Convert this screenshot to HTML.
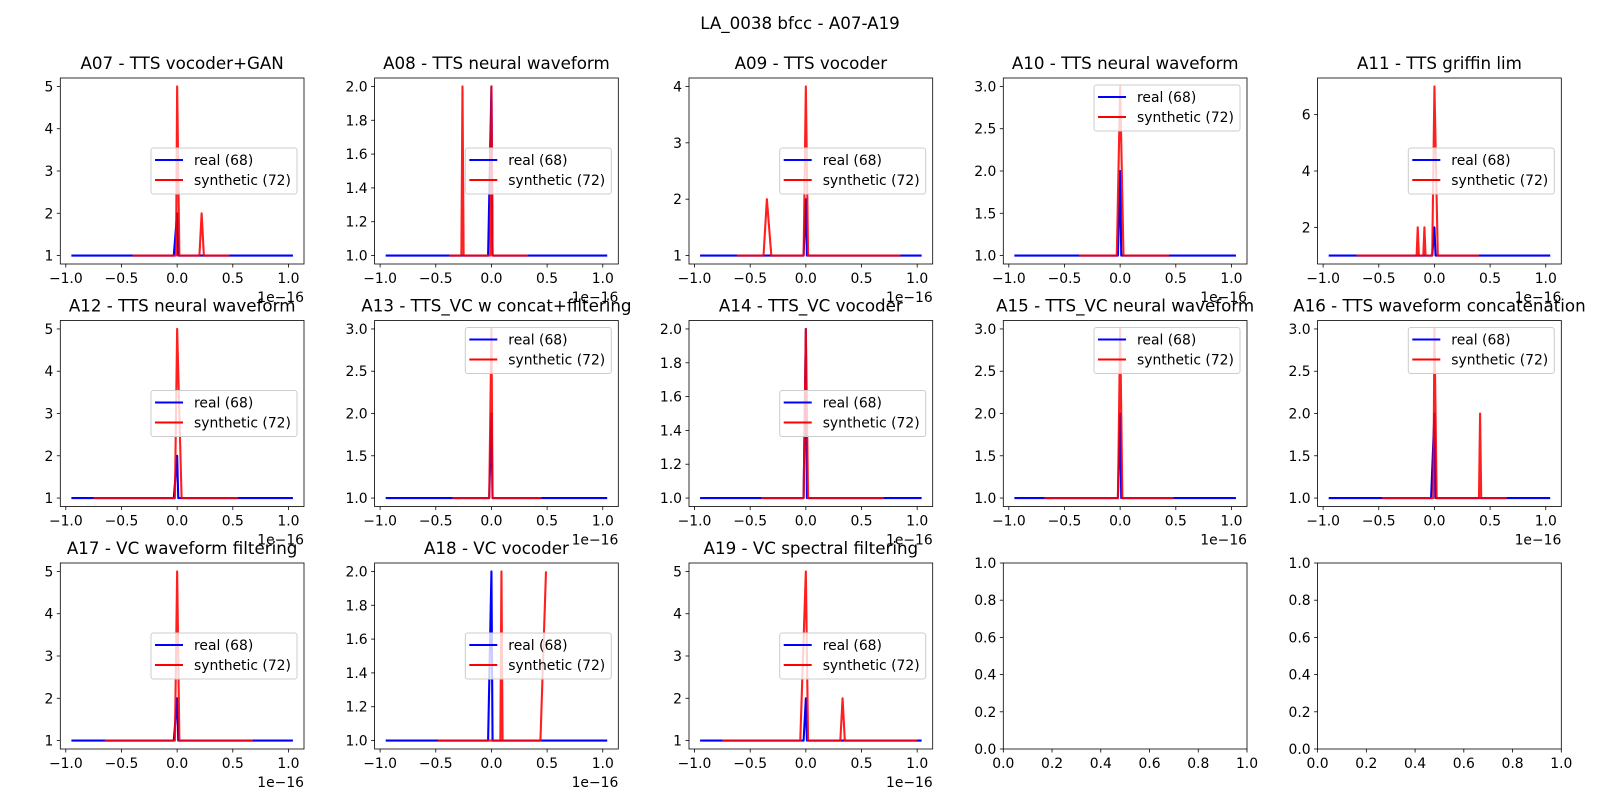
<!DOCTYPE html>
<html><head><meta charset="utf-8"><style>
html,body{margin:0;padding:0;background:#fff;}
svg{display:block;font-family:"DejaVu Sans","Liberation Sans",sans-serif;}
</style></head><body>
<svg id="fig" width="1600" height="800" viewBox="0 0 1600 800">
<rect width="1600" height="800" fill="#fff"/>
<text x="800" y="29" text-anchor="middle" font-size="16.7" fill="#000">LA_0038 bfcc - A07-A19</text>
</svg>
<script>
const titles = ["A07 - TTS vocoder+GAN","A08 - TTS neural waveform","A09 - TTS vocoder","A10 - TTS neural waveform","A11 - TTS griffin lim","A12 - TTS neural waveform","A13 - TTS_VC w concat+filtering","A14 - TTS_VC vocoder","A15 - TTS_VC neural waveform","A16 - TTS waveform concatenation","A17 - VC waveform filtering","A18 - VC vocoder","A19 - VC spectral filtering"];
const realX = [
 [-0.95,-0.03,0,0.01,1.04],[-0.95,-0.03,0,0.01,1.04],[-0.95,-0.02,0,0.01,1.04],[-0.95,-0.02,0,0.01,1.04],[-0.95,-0.02,0,0.01,1.04],
 [-0.95,-0.03,0,0.01,1.04],[-0.95,-0.02,0,0.01,1.04],[-0.95,-0.02,0,0.01,1.04],[-0.95,-0.02,0,0.01,1.04],[-0.95,-0.03,0,0.01,1.04],
 [-0.95,-0.03,0,0.01,1.04],[-0.95,-0.03,0,0.01,1.04],[-0.95,-0.02,0,0.01,1.04]];
const realY = [
 [1,1,2,1,1],[1,1,2,1,1],[1,1,2,1,1],[1,1,2,1,1],[1,1,2,1,1],
 [1,1,2,1,1],[1,1,2,1,1],[1,1,2,1,1],[1,1,2,1,1],[1,1,2,1,1],
 [1,1,2,1,1],[1,1,2,1,1],[1,1,2,1,1]];
const synX = [
 [-0.4,-0.01,0,0.02,0.2,0.22,0.24,0.47],
 [-0.38,-0.27,-0.26,-0.25,-0.01,0,0.01,0.33],
 [-0.62,-0.38,-0.35,-0.31,-0.02,0,0.02,0.85],
 [-0.37,-0.03,0,0.03,0.44],
 [-0.7,-0.16,-0.15,-0.14,-0.1,-0.09,-0.08,-0.02,0,0.03,0.4],
 [-0.75,-0.02,0,0.04,0.55],
 [-0.35,-0.02,0,0.01,0.45],
 [-0.4,-0.02,0,0.02,0.7],
 [-0.68,-0.02,0,0.02,0.48],
 [-0.47,-0.01,0,0.02,0.4,0.41,0.42,0.65],
 [-0.65,-0.02,0,0.02,0.68],
 [-0.48,0.08,0.09,0.1,0.44,0.49],
 [-0.75,-0.05,0,0.02,0.31,0.33,0.35,1.0]];
const synY = [
 [1,1,5,1,1,2,1,1],[1,1,2,1,1,2,1,1],[1,1,2,1,1,4,1,1],[1,1,3,1,1],
 [1,1,2,1,1,2,1,1,7,1,1],[1,1,5,1,1],[1,1,3,1,1],[1,1,2,1,1],[1,1,3,1,1],
 [1,1,3,1,1,2,1,1],[1,1,5,1,1],[1,1,2,1,1,2],[1,1,5,1,1,2,1,1]];
const yTicks = [
 [1,2,3,4,5],[1.0,1.2,1.4,1.6,1.8,2.0],[1,2,3,4],[1.0,1.5,2.0,2.5,3.0],[2,4,6],
 [1,2,3,4,5],[1.0,1.5,2.0,2.5,3.0],[1.0,1.2,1.4,1.6,1.8,2.0],[1.0,1.5,2.0,2.5,3.0],[1.0,1.5,2.0,2.5,3.0],
 [1,2,3,4,5],[1.0,1.2,1.4,1.6,1.8,2.0],[1,2,3,4,5]];
const yDec = [0,1,0,1,0, 0,1,1,1,1, 0,1,0];
const legendUpper = [false,false,false,true,false, false,true,false,true,true, false,false,false];
const xTicks = [-1.0,-0.5,0.0,0.5,1.0];
const emptyTicks = [0.0,0.2,0.4,0.6,0.8,1.0];
const legendLabels = ["real (68)","synthetic (72)"];

const NS="http://www.w3.org/2000/svg";
const svg=document.getElementById('fig');
const lefts=[60.3,374.6,689,1003.3,1317.6], tops=[78,320.5,563], W=243.7, H=186;
function mk(tag,attrs,parent){const e=document.createElementNS(NS,tag);for(const k in attrs)e.setAttribute(k,attrs[k]);(parent||svg).appendChild(e);return e;}
function fmtMinus(s){return s.replace('-','\u2212');}

for(let p=0;p<15;p++){
  const r=Math.floor(p/5), c=p%5, L=lefts[c], T=tops[r];
  const g=mk('g',{});
  
  
  let xmin,xmax,ymin,ymax;
  if(p<13){
    const allX=realX[p].concat(synX[p]), allY=realY[p].concat(synY[p]);
    const dx0=Math.min(...allX), dx1=Math.max(...allX), dy0=Math.min(...allY), dy1=Math.max(...allY);
    xmin=dx0-0.05*(dx1-dx0); xmax=dx1+0.05*(dx1-dx0);
    ymin=dy0-0.05*(dy1-dy0); ymax=dy1+0.05*(dy1-dy0);
  } else {xmin=0;xmax=1;ymin=0;ymax=1;}
  const sx=v=>L+(v-xmin)/(xmax-xmin)*W, sy=v=>T+H-(v-ymin)/(ymax-ymin)*H;
  // ticks
  const xt = p<13?xTicks:emptyTicks, yt=p<13?yTicks[p]:emptyTicks, yd=p<13?yDec[p]:1;
  xt.forEach(v=>{
    const x=sx(v);
    const tl=mk('line',{x1:x,x2:x,y1:T+H,y2:T+H+3.5,stroke:'#000','stroke-width':0.8},g);
     
    const t=mk('text',{x:x,y:T+H+19,'text-anchor':'middle','font-size':13.9,fill:'#000'},g);
    t.textContent=fmtMinus(v.toFixed(1));
     
  });
  yt.forEach(v=>{
    const y=sy(v);
    const tl=mk('line',{x1:L-3.5,x2:L,y1:y,y2:y,stroke:'#000','stroke-width':0.8},g);
     
    const t=mk('text',{x:L-7,y:y+5,'text-anchor':'end','font-size':13.9,fill:'#000'},g);
    t.textContent=v.toFixed(yd);
     
  });
  if(p<13){
    const pts=(xs,ys)=>xs.map((v,i)=>sx(v).toFixed(2)+','+sy(ys[i]).toFixed(2)).join(' ');
    const b=mk('polyline',{points:pts(realX[p],realY[p]),fill:'none',stroke:'#0000ff','stroke-width':2.1,'stroke-linejoin':'round'},g);
     
    const rl=mk('polyline',{points:pts(synX[p],synY[p]),fill:'none',stroke:'#ff0000','stroke-opacity':0.88,'stroke-width':2.1,'stroke-linejoin':'round'},g);
     
    // title
    const tt=mk('text',{x:L+W/2,y:T-9,'text-anchor':'middle','font-size':16.7,fill:'#000'},g);
    tt.textContent=titles[p];
     
    // offset text
    const ot=mk('text',{x:L+W,y:T+H+38,'text-anchor':'end','font-size':13.9,fill:'#000'},g);
    ot.textContent='1e\u221216';
     
    // legend
    const lw=146, lh=46, lx=L+W-7-lw, ly=legendUpper[p]?T+7:T+H/2-lh/2;
    const lg=mk('g',{},g);
     
    mk('rect',{x:lx,y:ly,width:lw,height:lh,rx:2.5,fill:'#fff','fill-opacity':0.8,stroke:'#cccccc','stroke-width':1},lg);
    legendLabels.forEach((lab,i)=>{
      const yy=ly+12+i*20;
      const ln=mk('line',{x1:lx+4,x2:lx+32,y1:yy,y2:yy,stroke:i?'#ff0000':'#0000ff','stroke-width':2.1},lg);
       
      const lt=mk('text',{x:lx+43,y:yy+5,'font-size':13.9,fill:'#000'},lg);
      lt.textContent=lab;
       
    });
  }
  const fr=mk('rect',{x:L,y:T,width:W,height:H,fill:'none',stroke:'#000','stroke-width':0.8},g);
   
}
</script>
</body></html>
